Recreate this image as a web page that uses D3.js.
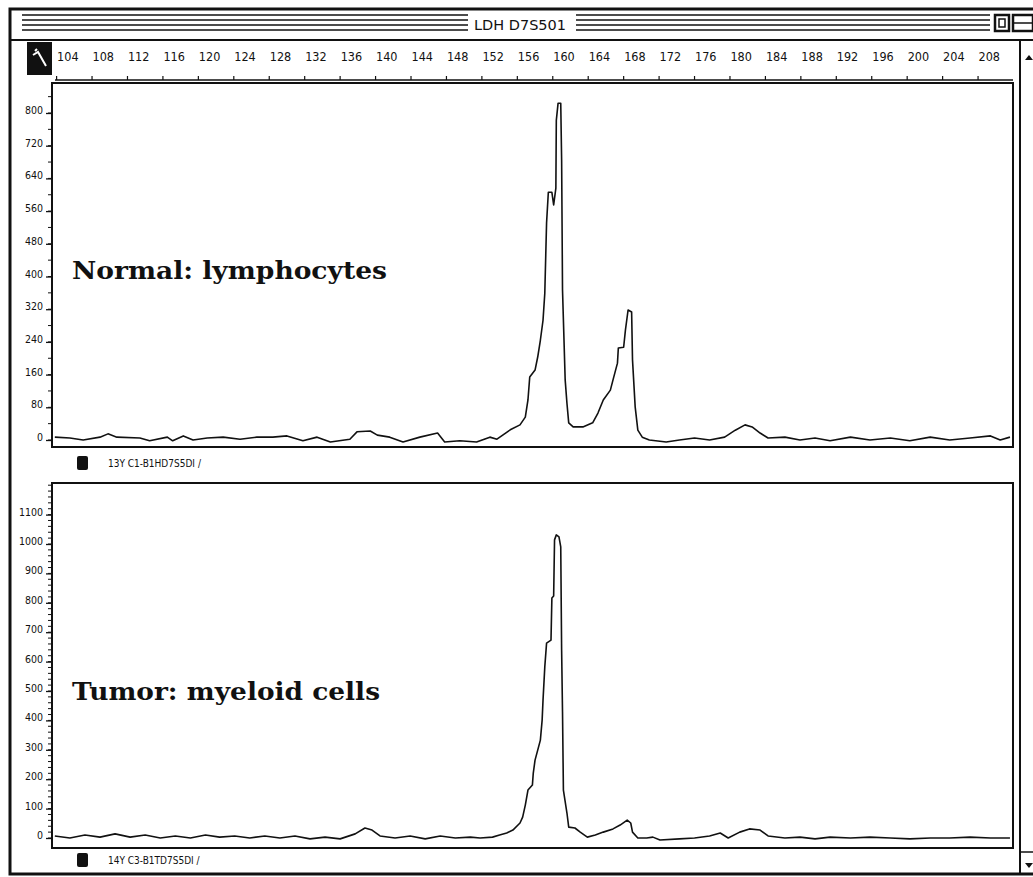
<!DOCTYPE html>
<html>
<head>
<meta charset="utf-8">
<script src="https://cdn.jsdelivr.net/npm/d3@7/dist/d3.min.js"></script>
<style>
html, body { margin: 0; padding: 0; background: #fff; }
svg { display: block; }
</style>
</head>
<body>
<svg id="chart" width="1033" height="877"></svg>
<script>
// --- data ---
const title = 'LDH D7S501';
const rulerTicks = [104, 108, 112, 116, 120, 124, 128, 132, 136, 140, 144, 148, 152, 156,
    160, 164, 168, 172, 176, 180, 184, 188, 192, 196, 200, 204, 208];
const normalTicks = [0, 80, 160, 240, 320, 400, 480, 560, 640, 720, 800];
const tumorTicks = [0, 100, 200, 300, 400, 500, 600, 700, 800, 900, 1000, 1100];
const panelNames = ['Normal: lymphocytes', 'Tumor: myeloid cells'];
const legendLabels = ['13Y C1-B1HD7S5DI /', '14Y C3-B1TD7S5DI /'];

// fragment size (bp) and signal for the normal sample
const normalSize = [103.8, 105.5, 107.0, 108.9, 109.8, 110.8, 113.4, 114.5, 116.5, 117.1, 118.3, 119.4,
    121.0, 122.8, 124.7, 126.6, 128.4, 130.0, 131.8, 133.4, 134.9, 137.1, 137.9, 139.4, 140.2,
    141.6, 143.1, 145.0, 147.0, 147.8, 149.5, 151.4, 152.9, 153.7, 155.2, 156.3, 156.9, 157.2,
    157.4, 158.0, 158.3, 158.6, 158.9, 159.1, 159.3, 159.5, 159.9, 160.1, 160.35, 160.4, 160.6,
    160.9, 161.0, 161.1, 161.4, 161.6, 161.8, 162.3, 163.4, 164.5, 165.1, 165.7, 166.5, 166.8,
    167.3, 167.4, 168.0, 168.2, 168.5, 168.9, 169.0, 169.3, 169.6, 170.1, 170.9, 172.8, 174.3,
    176.0, 177.7, 179.4, 180.6, 181.7, 182.5, 183.4, 184.3, 186.2, 187.9, 189.6, 191.3, 193.6,
    195.8, 198.1, 200.3, 202.6, 204.8, 207.1, 209.4, 210.5, 211.6];
const normalRfu = [7, 5, 0, 7, 15, 7, 5, -2, 7, -2, 10, 0,
    5, 7, 2, 7, 7, 10, -2, 7, -5, 2, 20, 22, 12,
    7, -5, 7, 17, -5, -2, -5, 7, 2, 25, 37, 56, 98,
    154, 171, 203, 244, 293, 359, 531, 606, 606, 575, 616, 782, 824,
    824, 685, 367, 147, 90, 42, 32, 32, 42, 66, 98, 122, 147,
    188, 225, 227, 269, 318, 313, 196, 81, 24, 7, 0, -5, 0,
    5, 0, 7, 24, 37, 32, 17, 5, 7, 0, 5, -2, 7,
    0, 5, -2, 7, 0, 5, 10, 0, 7];

// fragment size (bp) and signal for the tumour sample
const tumorSize = [103.8, 105.5, 107.2, 108.9, 110.6, 112.3, 114.0, 115.7, 117.4, 119.1, 120.8, 122.4,
    124.1, 125.8, 127.5, 129.2, 130.9, 132.6, 134.3, 136.0, 137.7, 138.8, 139.6, 140.5, 142.2,
    143.9, 145.6, 147.3, 149.0, 150.7, 151.8, 153.2, 154.0, 154.8, 155.5, 156.3, 156.6, 156.9,
    157.2, 157.7, 157.8, 158.0, 158.3, 158.6, 158.8, 158.9, 159.1, 159.3, 159.8, 159.9, 160.1,
    160.2, 160.4, 160.7, 160.9, 161.0, 161.1, 161.2, 161.6, 161.8, 162.5, 163.1, 163.9, 164.8,
    165.7, 166.8, 167.6, 168.4, 168.8, 169.0, 169.6, 170.6, 171.3, 172.1, 174.3, 176.0, 177.7,
    178.9, 179.8, 181.1, 182.2, 183.4, 184.3, 186.2, 187.9, 189.6, 191.3, 193.6, 195.8, 198.1,
    200.3, 202.6, 204.8, 207.1, 209.4, 211.6];
const tumorRfu = [7, 0, 10, 3, 14, 3, 10, 0, 7, 0, 10, 3,
    7, 0, 7, 0, 7, -3, 3, -3, 14, 34, 27, 7, 0,
    7, -3, 7, 0, 3, 0, 3, 10, 17, 27, 51, 71, 112,
    163, 180, 221, 265, 299, 333, 401, 469, 582, 663, 673, 816, 823,
    1014, 1031, 1024, 990, 639, 429, 163, 85, 37, 34, 20, 3, 10,
    20, 31, 44, 61, 51, 20, 0, 0, 3, -7, -3, 0, 7,
    17, 0, 20, 31, 27, 7, 0, 3, -3, 3, 0, 3, 0,
    -3, 0, 0, 3, 0, 0];

const svg = d3.select('#chart');
const ink = '#111';
const smallFont = '"DejaVu Sans Condensed", "Liberation Sans Narrow", sans-serif';

// shared size axis (bp)
const x = d3.scaleLinear().domain([104, 212]).range([56.6, 1013.5]);

// --- window frame and title bar ---
svg.append('rect')
    .attr('x', 10).attr('y', 9).attr('width', 1040).attr('height', 865)
    .attr('fill', 'none').attr('stroke', ink).attr('stroke-width', 3);

svg.append('line')
    .attr('x1', 10).attr('x2', 1033).attr('y1', 40).attr('y2', 40)
    .attr('stroke', ink).attr('stroke-width', 2);

const stripes = svg.append('g').attr('stroke', ink).attr('stroke-width', 1.6);
[15, 20, 25, 30].forEach(y => {
    stripes.append('line').attr('x1', 22).attr('x2', 468).attr('y1', y).attr('y2', y);
    stripes.append('line').attr('x1', 576).attr('x2', 990).attr('y1', y).attr('y2', y);
});

svg.append('text')
    .attr('x', 474).attr('y', 30)
    .attr('textLength', 92).attr('lengthAdjust', 'spacingAndGlyphs')
    .style('font-family', smallFont).style('font-size', '14px')
    .attr('fill', ink)
    .text(title);

// zoom boxes at the right end of the title bar
svg.append('rect').attr('x', 995).attr('y', 15).attr('width', 14).attr('height', 16)
    .attr('fill', '#fff').attr('stroke', ink).attr('stroke-width', 2.5);
svg.append('rect').attr('x', 999).attr('y', 19).attr('width', 6).attr('height', 8)
    .attr('fill', 'none').attr('stroke', ink).attr('stroke-width', 1.5);
svg.append('rect').attr('x', 1013).attr('y', 15).attr('width', 20).attr('height', 16)
    .attr('fill', '#fff').attr('stroke', ink).attr('stroke-width', 2.5);
svg.append('line').attr('x1', 1013).attr('x2', 1033).attr('y1', 23).attr('y2', 23)
    .attr('stroke', ink).attr('stroke-width', 1.5);

// --- size ruler ---
svg.append('rect').attr('x', 27).attr('y', 42).attr('width', 25).attr('height', 33).attr('fill', ink);
svg.append('path')
    .attr('d', 'M33,55 L38,52 L46,66 M35,51 L37,49')
    .attr('stroke', '#fff').attr('stroke-width', 2).attr('fill', 'none');

svg.append('line')
    .attr('x1', 55).attr('x2', 1013).attr('y1', 80).attr('y2', 80)
    .attr('stroke', ink).attr('stroke-width', 1.5);

const ruler = svg.append('g');
ruler.selectAll('line')
    .data(rulerTicks)
    .enter()
    .append('line')
    .attr('x1', d => x(d)).attr('x2', d => x(d))
    .attr('y1', 76).attr('y2', 80)
    .attr('stroke', ink).attr('stroke-width', 1.2);
ruler.selectAll('text')
    .data(rulerTicks)
    .enter()
    .append('text')
    .attr('x', d => x(d) + 0.5)
    .attr('y', 61)
    .style('font-family', smallFont).style('font-size', '12.5px')
    .attr('fill', ink)
    .text(d => d);

// scroll bar at the right
svg.append('line').attr('x1', 1020).attr('x2', 1020).attr('y1', 41).attr('y2', 875)
    .attr('stroke', ink).attr('stroke-width', 2);
svg.append('line').attr('x1', 1020).attr('x2', 1033).attr('y1', 852).attr('y2', 852)
    .attr('stroke', ink).attr('stroke-width', 1.5);
svg.append('path').attr('d', 'M1025,60 L1029,55 L1033,60 Z').attr('fill', ink);
svg.append('path').attr('d', 'M1025,863 L1029,868 L1033,863 Z').attr('fill', ink);

// --- panels ---
const panels = [
    { top: 83, bottom: 447, zeroY: 440, max: 800, maxY: 113, ticks: normalTicks, minor: 40,
      sizes: normalSize, values: normalRfu, name: panelNames[0], nameY: 279, legend: legendLabels[0], legendY: 463 },
    { top: 483, bottom: 848, zeroY: 838, max: 1100, maxY: 514.6, ticks: tumorTicks, minor: 20,
      sizes: tumorSize, values: tumorRfu, name: panelNames[1], nameY: 700, legend: legendLabels[1], legendY: 860 }
];

panels.forEach((p, i) => {
    const y = d3.scaleLinear().domain([0, p.max]).range([p.zeroY, p.maxY]);
    const g = svg.append('g');

    g.append('clipPath').attr('id', 'clip' + i)
        .append('rect')
        .attr('x', 52).attr('y', p.top).attr('width', 961).attr('height', p.bottom - p.top);

    // minor ticks up to the panel top
    const topValue = y.invert(p.top + 2);
    const minorTicks = d3.range(0, topValue, p.minor);
    g.selectAll('.minor')
        .data(minorTicks)
        .enter()
        .append('line')
        .attr('class', 'minor')
        .attr('x1', 48).attr('x2', 52)
        .attr('y1', d => y(d)).attr('y2', d => y(d))
        .attr('stroke', ink).attr('stroke-width', 1);

    const axis = d3.axisLeft(y)
        .tickValues(p.ticks)
        .tickSize(6)
        .tickPadding(3)
        .tickFormat(d3.format('d'));

    const ag = g.append('g').attr('transform', 'translate(52,0)').call(axis);
    ag.select('.domain').remove();
    ag.selectAll('.tick line').attr('stroke', ink).attr('stroke-width', 1.3);
    ag.selectAll('.tick text')
        .attr('dy', '0.05em')
        .style('font-family', smallFont).style('font-size', '10.5px')
        .attr('fill', ink);

    // frame
    g.append('rect')
        .attr('x', 52).attr('y', p.top).attr('width', 961).attr('height', p.bottom - p.top)
        .attr('fill', 'none').attr('stroke', ink).attr('stroke-width', 2);

    // trace
    const pts = p.sizes.map((s, k) => [s, p.values[k]]);
    const line = d3.line()
        .x(d => x(d[0]))
        .y(d => y(d[1]));
    g.append('path')
        .datum(pts)
        .attr('clip-path', `url(#clip${i})`)
        .attr('d', line)
        .attr('fill', 'none')
        .attr('stroke', ink)
        .attr('stroke-width', 1.6)
        .attr('stroke-linejoin', 'round');

    // sample name inside the panel
    g.append('text')
        .attr('x', 72).attr('y', p.nameY)
        .attr('textLength', i === 0 ? 315 : 308)
        .attr('lengthAdjust', 'spacingAndGlyphs')
        .style('font-family', '"DejaVu Serif", "Liberation Serif", serif')
        .style('font-size', '25px').style('font-weight', 'bold')
        .attr('fill', ink)
        .text(p.name);

    // dye legend under the panel
    g.append('rect')
        .attr('x', 77).attr('y', p.legendY - 7).attr('width', 11).attr('height', 14)
        .attr('rx', 2).attr('fill', ink);
    g.append('text')
        .attr('x', 108).attr('y', p.legendY + 4)
        .style('font-family', smallFont).style('font-size', '10px')
        .attr('fill', ink)
        .text(p.legend);
});
</script>
</body>
</html>
